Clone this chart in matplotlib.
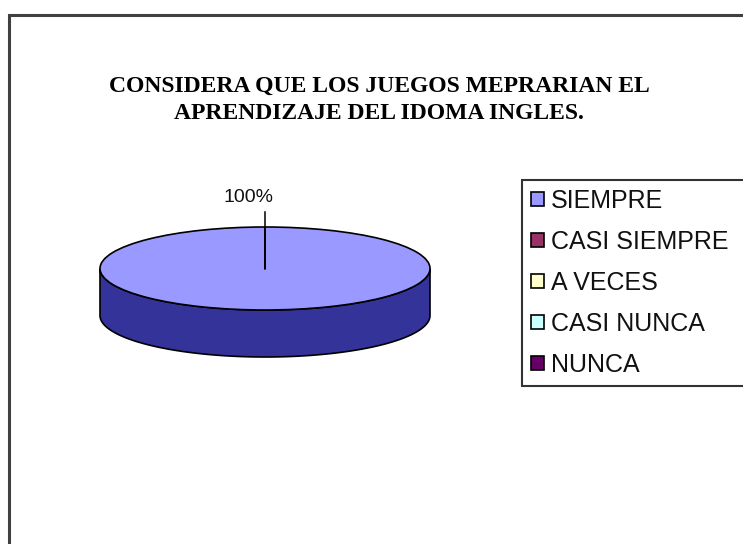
#!/usr/bin/env python3

"""
3D-style pie chart: CONSIDERA QUE LOS JUEGOS MEPRARIAN EL APRENDIZAJE DEL
IDOMA INGLES.
"""

import matplotlib as mpl
import matplotlib.pyplot as plt
import numpy as np
from matplotlib.patches import Polygon, Rectangle

mpl.use("Agg")

categories = ["SIEMPRE", "CASI SIEMPRE", "A VECES", "CASI NUNCA", "NUNCA"]
values = [100, 0, 0, 0, 0]
top_colors = ["#9999FF", "#993366", "#FFFFCC", "#CCFFFF", "#660066"]
side_colors = ["#333399", "#4C1933", "#7F7F66", "#667F7F", "#330033"]
title = "CONSIDERA QUE LOS JUEGOS MEPRARIAN EL\nAPRENDIZAJE DEL IDOMA INGLES."


def main():
    """Entry point."""
    W, H = 743, 544
    fig = plt.figure(figsize=(W / 100, H / 100), dpi=100)
    fig.patch.set_facecolor("white")

    # chart area border (runs off the right and bottom edge)
    fig.patches.append(
        Rectangle((9 / W, -0.1), 1.2, 1 - 15 / H + 0.1,
                  transform=fig.transFigure, fill=False,
                  edgecolor="#404040", linewidth=2.2)
    )

    fig.text(379 / W, 1 - 100 / H, title, ha="center", va="center",
             family="Liberation Serif", weight="bold", fontsize=17,
             linespacing=1.38)

    # pie axes: top ellipse centred at (265, 268.5) px, a=165, b=41.5, depth 47
    cx, cy, a, b, depth_px = 265, 268.5, 165, 41.5, 47
    depth = depth_px / b
    pad = 0.05
    x0 = cx - a * (1 + pad)
    x1 = cx + a * (1 + pad)
    ytop = cy - b * (1 + pad)
    ybot = cy + b * (1 + pad) + depth_px
    ax = fig.add_axes([x0 / W, 1 - ybot / H, (x1 - x0) / W, (ybot - ytop) / H])
    ax.set_axis_off()

    total = float(sum(values))
    fracs = [v / total for v in values]

    # side walls of front-facing slices
    start = 90.0
    angles = []
    for f in fracs:
        t1 = start - f * 360.0
        angles.append((t1, start))
        start = t1
    for (t1, t2), f, c in zip(angles, fracs, side_colors):
        if f <= 0:
            continue
        ts = np.mod(np.linspace(t1, t2, 720), 360.0)
        ts = np.sort(ts[ts >= 180])
        if len(ts) < 2:
            continue
        r = np.radians(ts)
        upper = np.column_stack([np.cos(r), np.sin(r)])
        lower = np.column_stack([np.cos(r), np.sin(r) - depth])[::-1]
        ax.add_patch(Polygon(np.vstack([upper, lower]), closed=True,
                             facecolor=c, edgecolor="black", linewidth=1.2,
                             zorder=1))

    wedges, _ = ax.pie(values, colors=top_colors, startangle=90,
                       counterclock=False, radius=1,
                       wedgeprops=dict(edgecolor="black", linewidth=1.2,
                                       zorder=2))
    ax.set_aspect("auto")
    ax.set_xlim(-1 - pad, 1 + pad)
    ax.set_ylim(-1 - pad - depth, 1 + pad)

    # percentage labels with leader lines
    for (t1, t2), f in zip(angles, fracs):
        if f <= 0:
            continue
        mid = 90.0 if f >= 1 else (t1 + t2) / 2
        m = np.radians(mid)
        ax.plot([0, 1.36 * np.cos(m)], [0, 1.36 * np.sin(m)], color="black",
                linewidth=1.1, zorder=3, clip_on=False)
        ax.annotate(f"{f * 100:.0f}%", (1.72 * np.cos(m), 1.72 * np.sin(m)),
                    xytext=(-12, 0), textcoords="offset points",
                    ha="center", va="center", family="Liberation Sans",
                    fontsize=14, color="#111111", annotation_clip=False)

    leg = fig.legend(wedges, categories, loc="upper left",
                     bbox_to_anchor=(522 / W, 1 - 180 / H, 0.35, 0.0),
                     mode="expand", borderaxespad=0, frameon=True,
                     fancybox=False, shadow=False, edgecolor="black",
                     prop={"family": "Liberation Sans", "size": 18},
                     handlelength=0.52, handleheight=0.52, handletextpad=0.28,
                     labelspacing=0.68, borderpad=0.36)
    leg.get_frame().set_linewidth(1.5)
    for t in leg.get_texts():
        t.set_color("#111111")

    fig.savefig("out.png", dpi=100)


if __name__ == "__main__":
    main()
